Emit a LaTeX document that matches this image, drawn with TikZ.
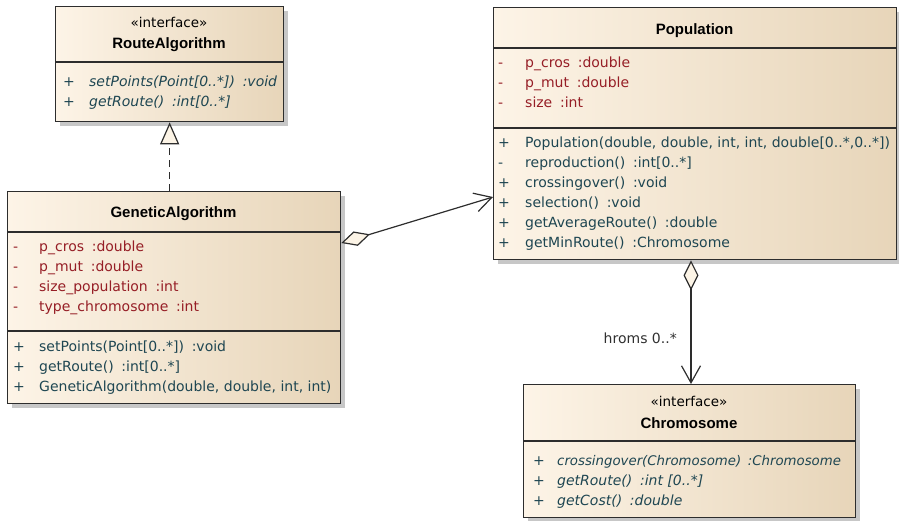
\documentclass[tikz,border=0pt]{standalone}
\usepackage{fontspec}
\setmainfont{DejaVu Sans}
\newfontface\titlefont{Liberation Sans Bold}
\usetikzlibrary{arrows.meta,shadows,calc}

\definecolor{boxL}{RGB}{253,244,231}
\definecolor{boxR}{RGB}{231,213,185}
\definecolor{edgeC}{RGB}{45,45,45}
\definecolor{attrC}{RGB}{150,30,38}
\definecolor{opC}{RGB}{30,70,82}
\definecolor{tipFill}{RGB}{252,244,230}
\definecolor{labelC}{RGB}{48,48,48}

\newcommand\gap{\hspace{0.55em}}

\tikzset{
  umlbox/.style={draw=edgeC, line width=1.3pt, left color=boxL, right color=boxR,
    inner sep=0pt, anchor=north west,
    drop shadow={shadow xshift=4pt, shadow yshift=-4pt, opacity=1, fill=black!22}},
  sepline/.style={draw=edgeC, line width=1.3pt},
  txt/.style={inner sep=0pt, anchor=west, text height=10.5pt, text depth=3pt,
    font=\fontsize{14}{17}\selectfont},
  vis/.style={txt},
  attr/.style={txt, text=attrC},
  op/.style={txt, text=opC},
  iop/.style={op, font=\fontsize{14}{17}\selectfont\itshape},
  stereo/.style={txt, anchor=center, text=black, font=\fontsize{13.5}{16}\selectfont},
  classname/.style={inner sep=0pt, anchor=center, text=black,
    font=\fontsize{15}{18}\selectfont\titlefont},
  link/.style={draw=edgeC, line width=1.2pt},
  realize/.style={link, dash pattern=on 7pt off 5pt,
    -{Triangle[length=22pt, width=19pt, fill=tipFill]}},
  aggregate/.style={link,
    {Diamond[length=30pt, width=15pt, fill=tipFill]}-{Straight Barb[length=17pt, width=19pt]}},
  rolelabel/.style={txt, anchor=east, text=labelC}
}

\begin{document}
\begin{tikzpicture}[x=1pt, y=-1pt]
\useasboundingbox (0,0) rectangle (899,520);

% ---------- RouteAlgorithm (interface) ----------
\node[umlbox, minimum width=228pt, minimum height=115pt] (ra) at (55,6) {};
\draw[sepline] ($(ra.north west)+(0,56)$) -- ($(ra.north east)+(0,56)$);
\node[stereo] (ra-st) at (169,24) {«interface»};
\node[classname] (ra-name) at (169,45) {RouteAlgorithm};
\node[vis, text=opC] (ra-v1) at (63,83) {+};
\node[iop] (ra-o1) at (89,83) {setPoints(Point[0..*])\gap:void};
\node[vis, text=opC] (ra-v2) at (63,103) {+};
\node[iop] (ra-o2) at (89,103) {getRoute()\gap:int[0..*]};

% ---------- GeneticAlgorithm ----------
\node[umlbox, minimum width=333pt, minimum height=212pt] (ga) at (7,191) {};
\draw[sepline] ($(ga.north west)+(0,41)$) -- ($(ga.north east)+(0,41)$);
\draw[sepline] ($(ga.north west)+(0,140)$) -- ($(ga.north east)+(0,140)$);
\node[classname] (ga-name) at (173.5,214) {GeneticAlgorithm};
\node[vis, text=attrC] (ga-v1) at (13,248) {-};
\node[attr] (ga-a1) at (39,248) {p\_cros\gap:double};
\node[vis, text=attrC] (ga-v2) at (13,268) {-};
\node[attr] (ga-a2) at (39,268) {p\_mut\gap:double};
\node[vis, text=attrC] (ga-v3) at (13,288) {-};
\node[attr] (ga-a3) at (39,288) {size\_population\gap:int};
\node[vis, text=attrC] (ga-v4) at (13,308) {-};
\node[attr] (ga-a4) at (39,308) {type\_chromosome\gap:int};
\node[vis, text=opC] (ga-v5) at (13,348) {+};
\node[op] (ga-o1) at (39,348) {setPoints(Point[0..*])\gap:void};
\node[vis, text=opC] (ga-v6) at (13,368) {+};
\node[op] (ga-o2) at (39,368) {getRoute()\gap:int[0..*]};
\node[vis, text=opC] (ga-v7) at (13,388) {+};
\node[op] (ga-o3) at (39,388) {GeneticAlgorithm(double, double, int, int)};

% ---------- Population ----------
\node[umlbox, minimum width=403pt, minimum height=252pt] (pop) at (493,7) {};
\draw[sepline] ($(pop.north west)+(0,41)$) -- ($(pop.north east)+(0,41)$);
\draw[sepline] ($(pop.north west)+(0,121)$) -- ($(pop.north east)+(0,121)$);
\node[classname] (pop-name) at (694.5,31) {Population};
\node[vis, text=attrC] (pop-v1) at (498,64) {-};
\node[attr] (pop-a1) at (525,64) {p\_cros\gap:double};
\node[vis, text=attrC] (pop-v2) at (498,84) {-};
\node[attr] (pop-a2) at (525,84) {p\_mut\gap:double};
\node[vis, text=attrC] (pop-v3) at (498,104) {-};
\node[attr] (pop-a3) at (525,104) {size\gap:int};
\node[vis, text=opC] (pop-v4) at (498,144) {+};
\node[op] (pop-o1) at (525,144) {Population(double, double, int, int, double[0..*,0..*])};
\node[vis, text=opC] (pop-v5) at (498,164) {-};
\node[op] (pop-o2) at (525,164) {reproduction()\gap:int[0..*]};
\node[vis, text=opC] (pop-v6) at (498,184) {+};
\node[op] (pop-o3) at (525,184) {crossingover()\gap:void};
\node[vis, text=opC] (pop-v7) at (498,204) {+};
\node[op] (pop-o4) at (525,204) {selection()\gap:void};
\node[vis, text=opC] (pop-v8) at (498,224) {+};
\node[op] (pop-o5) at (525,224) {getAverageRoute()\gap:double};
\node[vis, text=opC] (pop-v9) at (498,244) {+};
\node[op] (pop-o6) at (525,244) {getMinRoute()\gap:Chromosome};

% ---------- Chromosome (interface) ----------
\node[umlbox, minimum width=332pt, minimum height=133pt] (chr) at (523,384) {};
\draw[sepline] ($(chr.north west)+(0,57)$) -- ($(chr.north east)+(0,57)$);
\node[stereo] (chr-st) at (689,403) {«interface»};
\node[classname] (chr-name) at (689,423) {Chromosome};
\node[vis, text=opC] (chr-v1) at (533,462) {+};
\node[iop, font=\fontsize{13.3}{16}\selectfont\itshape] (chr-o1) at (557,462)
  {crossingover(Chromosome)\hspace{0.5em}:Chromosome};
\node[vis, text=opC] (chr-v2) at (533,482) {+};
\node[iop] (chr-o2) at (557,482) {getRoute()\gap:int [0..*]};
\node[vis, text=opC] (chr-v3) at (533,502) {+};
\node[iop] (chr-o3) at (557,502) {getCost()\gap:double};

% ---------- Connectors ----------
% GeneticAlgorithm realizes RouteAlgorithm
\draw[realize] (ra.south |- ga.north) -- (ra.south);

% GeneticAlgorithm aggregates Population
\coordinate (ga-end) at ($(ga.north east)+(0,52)$);
\coordinate (pop-end) at ($(pop.north west)+(0,190)$);
\draw[aggregate] (ga-end) -- (pop-end);

% Population aggregates Chromosome
\coordinate (pc-x) at (691,0);
\draw[aggregate] (pop.south -| pc-x) -- (chr.north -| pc-x);
\node[rolelabel] (pc-role) at (677,340) {hroms 0..*};

\end{tikzpicture}
\end{document}
